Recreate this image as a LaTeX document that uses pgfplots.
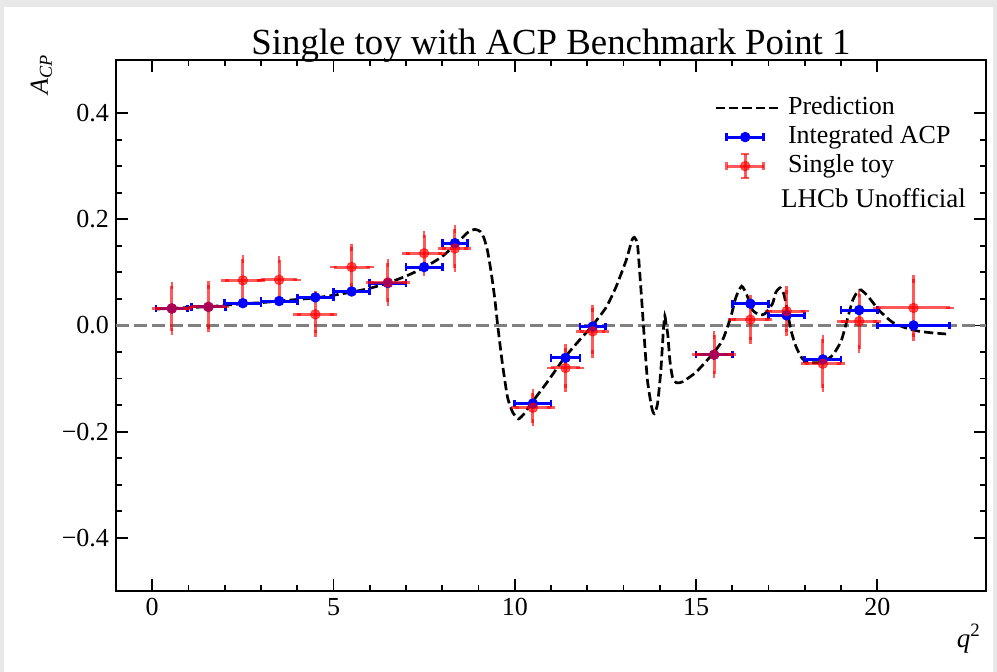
\documentclass[border=0pt]{standalone}
\usepackage{fontspec}
\setmainfont{Liberation Serif}
\usepackage{pgfplots}
\usepackage{pgfplotstable}
\pgfplotsset{compat=1.18}

\definecolor{zgray}{RGB}{128,128,128}
\definecolor{bgframe}{RGB}{232,232,232}

\pgfplotstableread{
x ex y
0.54 0.44 0.032
1.55 0.47 0.035
2.5 0.5 0.042
3.5 0.5 0.046
4.5 0.5 0.053
5.5 0.5 0.064
6.5 0.5 0.080
7.5 0.5 0.110
8.35 0.35 0.155
10.5 0.5 -0.147
11.4 0.4 -0.061
12.15 0.35 -0.002
15.5 0.5 -0.055
16.5 0.5 0.041
17.5 0.5 0.019
18.5 0.5 -0.064
19.5 0.5 0.029
21.0 1.0 0.000
}\integrated

\pgfplotstableread{
x ex y ey
0.54 0.44 0.032 0.043
1.55 0.47 0.035 0.041
2.5 0.5 0.085 0.040
3.5 0.5 0.086 0.038
4.5 0.5 0.021 0.036
5.5 0.5 0.110 0.037
6.5 0.5 0.081 0.037
7.5 0.5 0.136 0.035
8.35 0.35 0.145 0.037
10.5 0.5 -0.155 0.028
11.4 0.4 -0.080 0.038
12.15 0.35 -0.011 0.043
15.5 0.5 -0.055 0.037
16.5 0.5 0.011 0.039
17.5 0.5 0.027 0.040
18.5 0.5 -0.072 0.046
19.5 0.5 0.008 0.052
21.0 1.0 0.033 0.055
}\toy

\pgfplotstableread{
x y
0.1 0.031
0.5 0.032
1.0 0.034
1.5 0.035
2.0 0.038
2.5 0.041
3.0 0.043
3.5 0.046
4.0 0.049
4.5 0.052
5.0 0.057
5.5 0.063
6.0 0.070
6.5 0.080
7.0 0.093
7.5 0.109
8.0 0.130
8.4 0.155
8.7 0.175
8.9 0.181
9.05 0.177
9.15 0.165
9.25 0.140
9.35 0.100
9.45 0.050
9.53 0.000
9.66 -0.072
9.80 -0.135
9.94 -0.163
10.1 -0.176
10.26 -0.166
10.45 -0.147
10.86 -0.110
11.37 -0.061
11.78 -0.028
12.12 -0.002
12.52 0.034
12.79 0.072
13.07 0.122
13.23 0.160
13.30 0.166
13.39 0.150
13.50 0.050
13.56 -0.010
13.66 -0.103
13.78 -0.155
13.85 -0.166
13.94 -0.147
14.03 -0.085
14.10 -0.009
14.14 0.018
14.18 0.000
14.22 -0.016
14.28 -0.066
14.35 -0.097
14.46 -0.108
14.63 -0.106
15.0 -0.088
15.44 -0.055
15.73 -0.028
15.96 0.016
16.1 0.053
16.26 0.074
16.4 0.058
16.55 0.030
16.74 0.020
16.9 0.022
17.11 0.041
17.2 0.062
17.32 0.071
17.42 0.060
17.5 0.035
17.62 -0.009
17.76 -0.040
17.94 -0.063
18.22 -0.070
18.49 -0.069
18.77 -0.056
19.0 -0.030
19.14 0.003
19.32 0.047
19.46 0.064
19.55 0.067
19.73 0.056
20.06 0.028
20.42 0.006
20.84 -0.006
21.16 -0.011
21.53 -0.014
21.9 -0.016
}\prediction

\begin{document}
\begin{tikzpicture}
\useasboundingbox (-58pt,-40.5pt) rectangle (440.5pt,295.5pt);
\fill[bgframe] (-58pt,-40.5pt) rectangle (440.5pt,295.5pt);
\fill[white] (-56pt,-40.5pt) rectangle (438.5pt,292pt);
\begin{axis}[
  at={(0pt,0pt)}, anchor=south west,
  scale only axis, width=435pt, height=265.5pt,
  xmin=-1, xmax=23, ymin=-0.5, ymax=0.5,
  axis line style={line width=1pt},
  every tick/.style={line width=0.9pt, black},
  major tick length=6pt, minor tick length=3pt,
  tick align=inside, tick pos=both,
  xticklabel pos=left, yticklabel pos=left,
  xtick={0,5,10,15,20}, xticklabels={0,5,10,15,20},
  ytick={-0.4,-0.2,0,0.2,0.4}, yticklabels={−0.4,−0.2,0.0,0.2,0.4},
  minor x tick num=4, minor y tick num=3,
  ticklabel style={font=\fontsize{13}{15}\selectfont},
  title={Single toy with ACP Benchmark Point 1},
  title style={font=\fontsize{18.4}{21}\selectfont, anchor=base, at={(0.5,1)}, yshift=-3.5pt},
  ylabel={\textit{A}\textsubscript{\textit{CP}}},
  ylabel style={font=\fontsize{13}{15}\selectfont, at={(rel axis cs:0,1)}, anchor=base east, inner sep=0pt, yshift=34pt, xshift=3pt},
  xlabel={\textit{q}\textsuperscript{2}},
  xlabel style={font=\fontsize{13.5}{15}\selectfont, at={(rel axis cs:1,0)}, anchor=north east, yshift=-13pt, xshift=1pt},
  legend style={draw=none, fill=none, at={(rel axis cs:0.97,0.945)}, anchor=north east,
    font=\fontsize{13}{15}\selectfont, row sep=0pt,
    nodes={text height=9pt, text depth=2.5pt, inner sep=1.5pt},
    /tikz/every odd column/.append style={column sep=3pt}},
  legend cell align=left,
  clip=true,
]
\addplot[zgray, line width=1.5pt, dash pattern=on 6.3pt off 2.7pt, forget plot] coordinates {(-1,0) (23,0)};
\addplot[black, line width=1.35pt, dash pattern=on 4.6pt off 2.1pt, smooth, tension=0.35,
  legend image code/.code={\draw[black, line width=1.35pt, dash pattern=on 4.6pt off 2.1pt] (0pt,0pt) -- (31pt,0pt);}]
  table[x=x,y=y] {\prediction};
\addlegendentry{Prediction}
\addplot[blue, only marks, mark=*, mark size=2.4pt,
  error bars/.cd, x dir=both, x explicit,
  error bar style={line width=1.5pt, blue},
  error mark options={mark size=1.9pt, line width=1.3pt, blue, rotate=90},
  /pgfplots/legend image code/.code={
    \draw[blue, line width=1.5pt] (5.5pt,0pt) -- (24pt,0pt);
    \draw[blue, line width=1.3pt] (5.5pt,-1.9pt) -- (5.5pt,1.9pt);
    \draw[blue, line width=1.3pt] (24pt,-1.9pt) -- (24pt,1.9pt);
    \fill[blue] (14.75pt,0pt) circle (2.4pt);}]
  table[x=x,y=y,x error=ex] {\integrated};
\addlegendentry{Integrated ACP}
\addplot[red, only marks, mark=*, mark size=2.4pt, opacity=0.65,
  error bars/.cd, x dir=both, x explicit, y dir=both, y explicit,
  error bar style={line width=1.5pt, red, opacity=0.65},
  error mark options={mark size=1.9pt, line width=1.3pt, red, opacity=0.65},
  /pgfplots/legend image code/.code={
    \begin{scope}[opacity=0.65]
    \draw[red, line width=1.5pt] (5.5pt,0pt) -- (24pt,0pt);
    \draw[red, line width=1.5pt] (14.75pt,-6pt) -- (14.75pt,6pt);
    \draw[red, line width=1.3pt] (5.5pt,-1.9pt) -- (5.5pt,1.9pt);
    \draw[red, line width=1.3pt] (24pt,-1.9pt) -- (24pt,1.9pt);
    \draw[red, line width=1.3pt] (12.85pt,-6pt) -- (16.65pt,-6pt);
    \draw[red, line width=1.3pt] (12.85pt,6pt) -- (16.65pt,6pt);
    \fill[red] (14.75pt,0pt) circle (2.4pt);
    \end{scope}}]
  table[x=x,y=y,x error=ex,y error=ey] {\toy};
\addlegendentry{Single toy}
\node[anchor=base east, font=\fontsize{13.5}{16}\selectfont] at (rel axis cs:0.985,0.723) {LHCb Unofficial};
\end{axis}
\end{tikzpicture}
\end{document}
